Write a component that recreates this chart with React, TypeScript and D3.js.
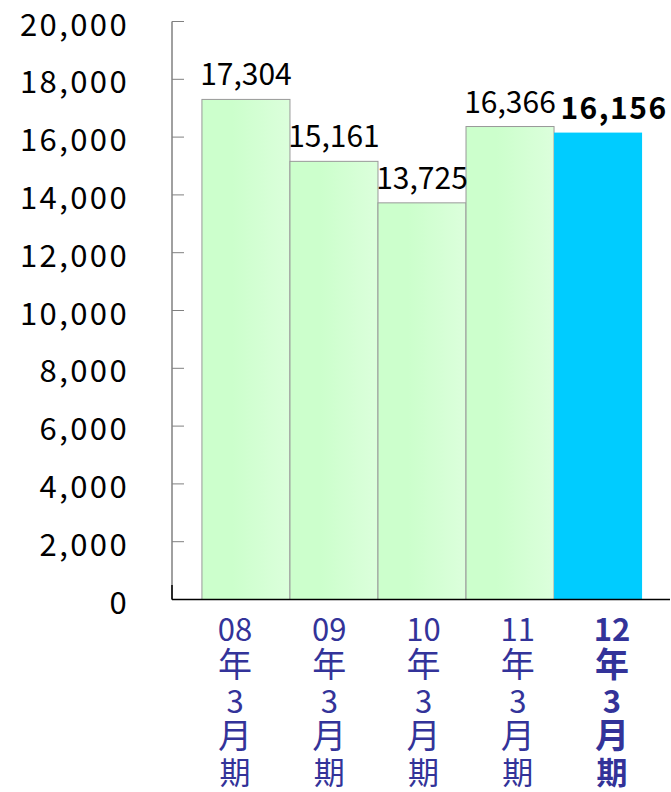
import { useEffect, useRef } from 'react';
import * as d3 from "d3";

const categories = ["08年3月期", "09年3月期", "10年3月期", "11年3月期", "12年3月期"];
const labelLines = [
    ["08", "年", "3", "月", "期"],
    ["09", "年", "3", "月", "期"],
    ["10", "年", "3", "月", "期"],
    ["11", "年", "3", "月", "期"],
    ["12", "年", "3", "月", "期"],
];
const values = [17304, 15161, 13725, 16366, 16156];
const yTicks = [0, 2000, 4000, 6000, 8000, 10000, 12000, 14000, 16000, 18000, 20000];

const App: React.FC = () => {
    const ref = useRef<SVGSVGElement | null>(null);

    useEffect(() => {
        if (!ref.current) return;
        const width = 671;
        const height = 792;
        const svg = d3.select(ref.current)
            .attr("width", width)
            .attr("height", height);
        svg.selectAll("*").remove();

        const font = "'Noto Sans CJK JP', sans-serif";
        const axisX = 172;
        const y0 = 599.5;
        const yTop = 21.5;
        const last = values.length - 1;

        const x = d3.scaleBand<string>()
            .domain(categories)
            .range([axisX, 672])
            .paddingInner(0)
            .paddingOuter(0.34);

        // カテゴリラベルの位置（棒の中心から少しずれている）
        const xLabel = d3.scalePoint<string>()
            .domain(categories)
            .range([235, 612]);

        const y = d3.scaleLinear()
            .domain([0, 20000])
            .range([y0, yTop]);

        // グラデーション
        const defs = svg.append("defs");
        const grad = defs.append("linearGradient")
            .attr("id", "greenGrad")
            .attr("x1", "0").attr("x2", "1").attr("y1", "0").attr("y2", "0");
        grad.append("stop").attr("offset", "0%").attr("stop-color", "#ccffcc");
        grad.append("stop").attr("offset", "35%").attr("stop-color", "#ccffcc");
        grad.append("stop").attr("offset", "100%").attr("stop-color", "#dcffdc");

        // 棒
        svg.selectAll(".bar")
            .data(values)
            .enter()
            .append("rect")
            .attr("x", (_, i) => x(categories[i]) || 0)
            .attr("y", d => y(d))
            .attr("width", x.bandwidth())
            .attr("height", d => y0 - y(d))
            .attr("fill", (_, i) => i === last ? "#00ccff" : "url(#greenGrad)")
            .attr("stroke", (_, i) => i === last ? "none" : "#999999")
            .attr("stroke-width", 1);

        // 縦軸
        svg.append("line")
            .attr("x1", axisX).attr("x2", axisX)
            .attr("y1", yTop).attr("y2", y0)
            .attr("stroke", "#808080").attr("stroke-width", 1.5);
        svg.append("line")
            .attr("x1", axisX).attr("x2", axisX)
            .attr("y1", y(500)).attr("y2", y0)
            .attr("stroke", "#000").attr("stroke-width", 1.5);

        svg.selectAll(".tick")
            .data(yTicks)
            .enter()
            .append("line")
            .attr("x1", axisX).attr("x2", axisX + 12)
            .attr("y1", d => y(d)).attr("y2", d => y(d))
            .attr("stroke", "#808080").attr("stroke-width", 1);

        svg.selectAll(".ytick-label")
            .data(yTicks)
            .enter()
            .append("text")
            .attr("x", 129)
            .attr("y", d => y(d) + 14)
            .attr("text-anchor", "end")
            .attr("font-family", font)
            .attr("font-size", 31)
            .attr("letter-spacing", 2.4)
            .attr("fill", "#000")
            .text(d => d3.format(",")(d));

        // 横軸
        svg.append("line")
            .attr("x1", axisX).attr("x2", 670)
            .attr("y1", y0).attr("y2", y0)
            .attr("stroke", "#000").attr("stroke-width", 1.5);

        // 値ラベル
        svg.selectAll(".val")
            .data(values)
            .enter()
            .append("text")
            .attr("x", (_, i) => (x(categories[i]) || 0) + x.bandwidth() / 2 + (i === last ? 16 : 0))
            .attr("y", d => y(d) - 14)
            .attr("text-anchor", "middle")
            .attr("font-family", font)
            .attr("font-size", (_, i) => i === last ? 30 : 30)
            .attr("font-weight", (_, i) => i === last ? "bold" : "normal")
            .attr("letter-spacing", (_, i) => i === last ? 1.5 : 0)
            .attr("fill", "#000")
            .text(d => d3.format(",")(d));

        // カテゴリラベル
        labelLines.forEach((lines, i) => {
            const cx = xLabel(categories[i]) || 0;
            svg.append("text")
                .attr("text-anchor", "middle")
                .attr("font-family", font)
                .attr("font-weight", i === last ? "bold" : "normal")
                .attr("fill", "#333399")
                .selectAll("tspan")
                .data(lines)
                .enter()
                .append("tspan")
                .attr("x", cx)
                .attr("y", (_, j) => 641 + j * 35.8)
                .attr("font-size", (_, j) => j % 2 === 0 ? 31 : 34)
                .text(d => d);
        });
    }, []);

    return (
        <div style={{ position: "absolute", left: 0, top: 0 }}>
            <svg ref={ref} style={{ display: "block" }}></svg>
        </div>
    );
};

export default App;
